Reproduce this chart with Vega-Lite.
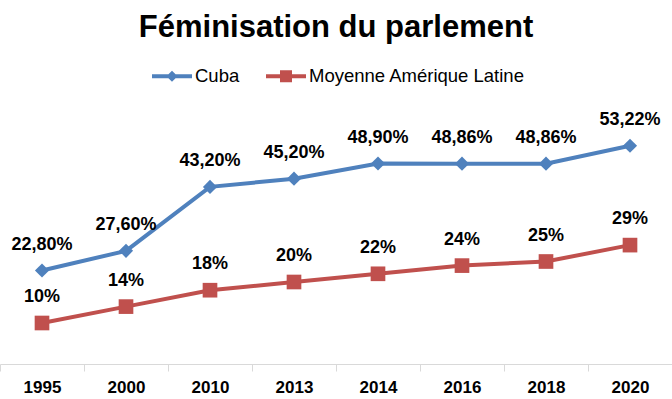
{
  "$schema": "https://vega.github.io/schema/vega-lite/v6.json",
  "width": 672,
  "height": 246,
  "autosize": {"type": "none"},
  "padding": {"left": 0, "right": 0, "top": 118, "bottom": 35},
  "background": "white",
  "title": {
    "text": "Féminisation du parlement",
    "font": "Liberation Sans",
    "fontSize": 31,
    "fontWeight": "bold",
    "color": "black",
    "anchor": "middle",
    "frame": "group",
    "offset": 12
  },
  "config": {"view": {"stroke": null}},
  "data": {
    "values": [
      {"year": "1995", "series": "Cuba", "pct": 22.8, "label": "22,80%"},
      {"year": "2000", "series": "Cuba", "pct": 27.6, "label": "27,60%"},
      {"year": "2010", "series": "Cuba", "pct": 43.2, "label": "43,20%"},
      {"year": "2013", "series": "Cuba", "pct": 45.2, "label": "45,20%"},
      {"year": "2014", "series": "Cuba", "pct": 48.9, "label": "48,90%"},
      {"year": "2016", "series": "Cuba", "pct": 48.86, "label": "48,86%"},
      {"year": "2018", "series": "Cuba", "pct": 48.86, "label": "48,86%"},
      {"year": "2020", "series": "Cuba", "pct": 53.22, "label": "53,22%"},
      {"year": "1995", "series": "Moyenne Amérique Latine", "pct": 10, "label": "10%"},
      {"year": "2000", "series": "Moyenne Amérique Latine", "pct": 14, "label": "14%"},
      {"year": "2010", "series": "Moyenne Amérique Latine", "pct": 18, "label": "18%"},
      {"year": "2013", "series": "Moyenne Amérique Latine", "pct": 20, "label": "20%"},
      {"year": "2014", "series": "Moyenne Amérique Latine", "pct": 22, "label": "22%"},
      {"year": "2016", "series": "Moyenne Amérique Latine", "pct": 24, "label": "24%"},
      {"year": "2018", "series": "Moyenne Amérique Latine", "pct": 25, "label": "25%"},
      {"year": "2020", "series": "Moyenne Amérique Latine", "pct": 29, "label": "29%"}
    ]
  },
  "encoding": {
    "x": {
      "field": "year",
      "type": "ordinal",
      "bandPosition": 0.5,
      "scale": {"type": "band", "paddingInner": 0, "paddingOuter": 0},
      "axis": {
        "title": null,
        "labelAngle": 0,
        "grid": false,
        "domainColor": "#D9D9D9",
        "domainWidth": 1,
        "tickColor": "#D9D9D9",
        "tickSize": 7,
        "tickBand": "extent",
        "labelFont": "Liberation Sans",
        "labelFontSize": 17,
        "labelFontWeight": "bold",
        "labelColor": "black",
        "labelPadding": 8
      }
    },
    "y": {
      "field": "pct",
      "type": "quantitative",
      "scale": {"domain": [0, 60], "nice": false, "zero": true},
      "axis": null
    }
  },
  "layer": [
    {
      "transform": [{"filter": "datum.pct < 0"}],
      "mark": {"type": "point", "filled": true, "opacity": 1},
      "encoding": {
        "color": {
          "field": "series",
          "type": "nominal",
          "scale": {"domain": ["Cuba", "Moyenne Amérique Latine"], "range": ["#4F81BD", "#C0504D"]},
          "legend": {
            "orient": "none",
            "legendX": 152,
            "legendY": -62,
            "direction": "horizontal",
            "title": null,
            "symbolSize": 1600,
            "symbolStrokeWidth": 0,
            "symbolOpacity": 1,
            "labelFont": "Liberation Sans",
            "labelFontSize": 18.5,
            "labelColor": "black",
            "labelOffset": 3,
            "labelLimit": 400,
            "columnPadding": 26,
            "padding": 0
          }
        },
        "shape": {
          "field": "series",
          "type": "nominal",
          "scale": {
            "domain": ["Cuba", "Moyenne Amérique Latine"],
            "range": [
              "M-1,-0.1H1V0.1H-1Z M0,-0.28L0.28,0L0,0.28L-0.28,0Z",
              "M-1,-0.1H1V0.1H-1Z M-0.3,-0.3H0.3V0.3H-0.3Z"
            ]
          },
          "legend": {
            "orient": "none",
            "legendX": 152,
            "legendY": -62,
            "direction": "horizontal",
            "title": null,
            "symbolSize": 1600,
            "symbolStrokeWidth": 0,
            "symbolOpacity": 1,
            "labelFont": "Liberation Sans",
            "labelFontSize": 18.5,
            "labelColor": "black",
            "labelOffset": 3,
            "labelLimit": 400,
            "columnPadding": 26,
            "padding": 0
          }
        }
      }
    },
    {
      "mark": {"type": "line", "strokeWidth": 4},
      "encoding": {
        "color": {"field": "series", "type": "nominal"}
      }
    },
    {
      "transform": [{"filter": "datum.series == 'Cuba'"}],
      "mark": {"type": "point", "shape": "diamond", "filled": true, "size": 200, "opacity": 1},
      "encoding": {
        "color": {"field": "series", "type": "nominal"}
      }
    },
    {
      "transform": [{"filter": "datum.series != 'Cuba'"}],
      "mark": {"type": "point", "shape": "square", "filled": true, "size": 215, "opacity": 1},
      "encoding": {
        "color": {"field": "series", "type": "nominal"}
      }
    },
    {
      "mark": {
        "type": "text",
        "font": "Liberation Sans",
        "fontSize": 18,
        "fontWeight": "bold",
        "color": "black",
        "baseline": "alphabetic",
        "dy": -21
      },
      "encoding": {"text": {"field": "label"}}
    }
  ]
}
